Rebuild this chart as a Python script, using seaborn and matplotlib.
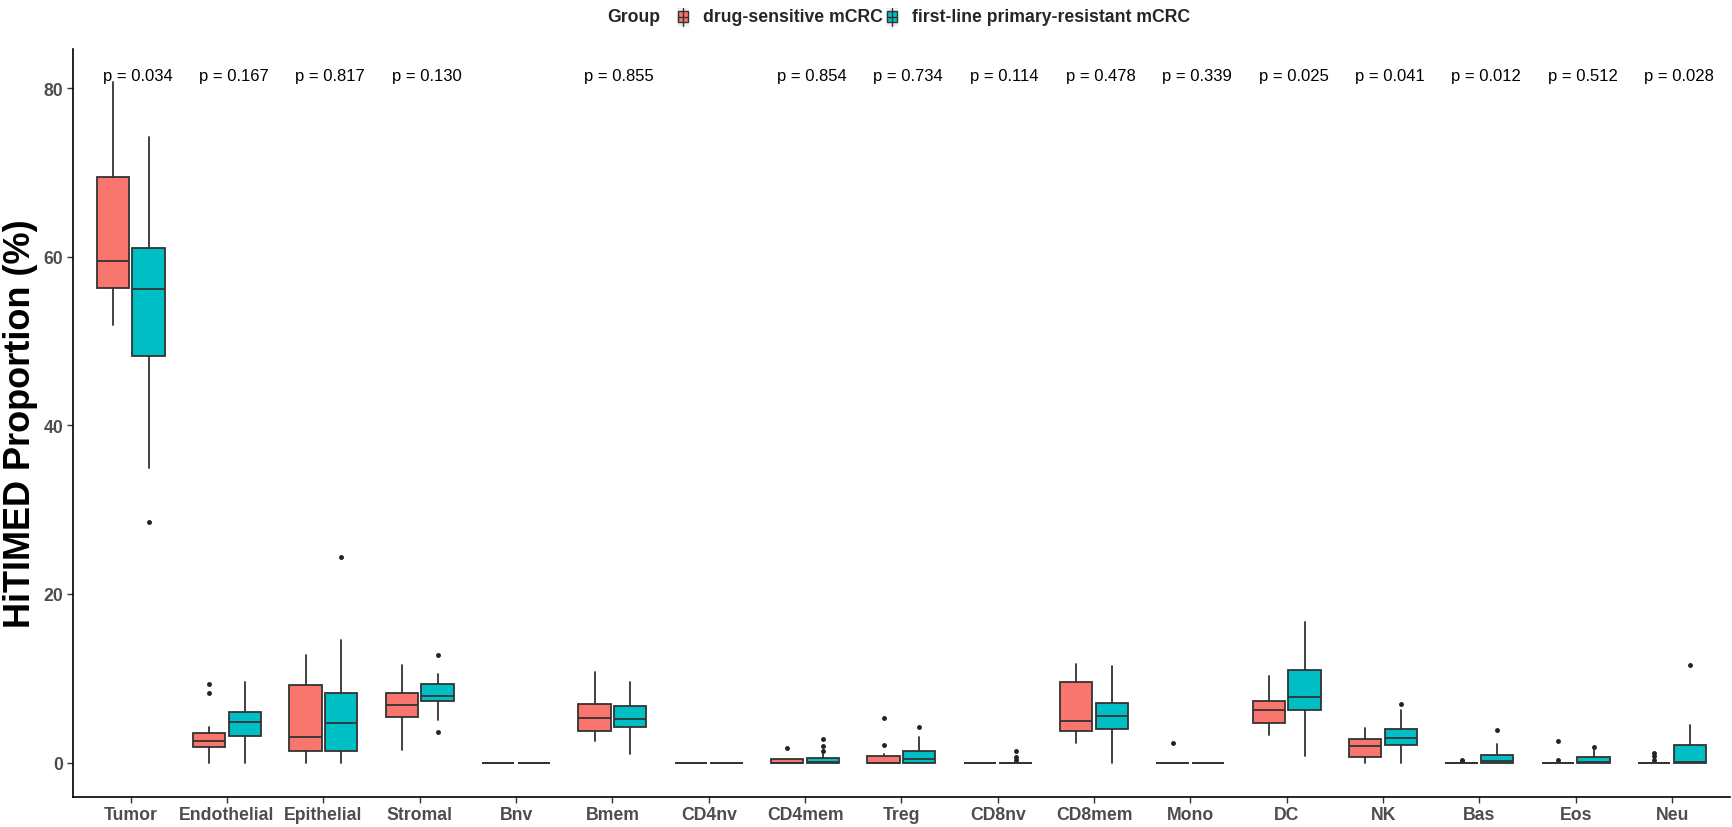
import numpy as np
import matplotlib
matplotlib.use("Agg")
import matplotlib.pyplot as plt
import seaborn as sns
from matplotlib.patches import Rectangle
from matplotlib.lines import Line2D

categories = ["Tumor", "Endothelial", "Epithelial", "Stromal", "Bnv", "Bmem", "CD4nv",
              "CD4mem", "Treg", "CD8nv", "CD8mem", "Mono", "DC", "NK", "Bas", "Eos", "Neu"]
groups = ["drug-sensitive mCRC", "first-line primary-resistant mCRC"]

# drug-sensitive mCRC
sens_whislo = [51.9, 0, 0, 1.5, 0, 2.6, 0, 0, 0, 0, 2.3, 0, 3.3, 0, 0, 0, 0]
sens_q1 = [56.3, 1.8, 1.4, 5.45, 0, 3.7, 0, 0, 0, 0, 3.75, 0, 4.65, 0.65, 0, 0, 0]
sens_med = [59.5, 2.5, 3.0, 6.85, 0, 5.3, 0, 0, 0, 0, 4.95, 0, 6.25, 2.0, 0, 0, 0]
sens_q3 = [69.5, 3.45, 9.15, 8.3, 0, 6.95, 0, 0.47, 0.79, 0, 9.55, 0, 7.35, 2.8, 0, 0, 0]
sens_whishi = [80.7, 4.2, 12.8, 11.6, 0, 10.7, 0, 0.47, 1.03, 0, 11.7, 0, 10.3, 4.05, 0, 0, 0]
sens_fliers = [[], [8.2, 9.35], [], [], [], [], [], [1.78], [2.1, 5.3], [], [], [2.3], [], [],
               [0.15, 0.3], [0.32, 2.5], [0.28, 0.83, 1.15]]

# first-line primary-resistant mCRC
res_whislo = [34.9, 0, 0, 5.05, 0, 1.05, 0, 0, 0, 0, 0, 0, 0.8, 0, 0, 0, 0]
res_q1 = [48.2, 3.15, 1.4, 7.25, 0, 4.25, 0, 0, 0, 0, 4.0, 0, 6.25, 2.1, 0, 0, 0]
res_med = [56.2, 4.8, 4.75, 7.9, 0, 5.2, 0, 0.05, 0.4, 0, 5.5, 0, 7.8, 2.95, 0.2, 0.08, 0.12]
res_q3 = [61.1, 5.95, 8.2, 9.3, 0, 6.75, 0, 0.59, 1.34, 0, 7.05, 0, 11.0, 3.95, 0.95, 0.67, 2.1]
res_whishi = [74.2, 9.5, 14.5, 10.5, 0, 9.5, 0, 1.1, 3.08, 0, 11.5, 0, 16.7, 6.25, 2.17, 1.5, 4.4]
res_fliers = [[28.6], [], [24.4], [3.65, 12.8], [], [], [], [1.42, 1.94, 2.8], [4.23],
              [0.32, 0.63, 1.38], [], [], [], [6.92], [3.87], [1.9], [11.6]]

p_labels = ["p = 0.034", "p = 0.167", "p = 0.817", "p = 0.130", "", "p = 0.855", "",
            "p = 0.854", "p = 0.734", "p = 0.114", "p = 0.478", "p = 0.339", "p = 0.025",
            "p = 0.041", "p = 0.012", "p = 0.512", "p = 0.028"]

colors = ["#F8766D", "#00BFC4"]
edge = "#333333"

sns.set_style("white")
plt.rcParams["font.family"] = ["Liberation Sans", "DejaVu Sans"]

W, H = 1732, 828
fig = plt.figure(figsize=(W / 100, H / 100), dpi=100)
ax = fig.add_axes([0.0421, 0.0368, 0.9567, 0.9032])


def make_stats(wl, q1, md, q3, wh, fl):
    return [dict(whislo=a, q1=b, med=c, q3=d, whishi=e, fliers=np.array(f))
            for a, b, c, d, e, f in zip(wl, q1, md, q3, wh, fl)]


all_stats = [make_stats(sens_whislo, sens_q1, sens_med, sens_q3, sens_whishi, sens_fliers),
             make_stats(res_whislo, res_q1, res_med, res_q3, res_whishi, res_fliers)]

xs = np.arange(1, len(categories) + 1)
offset = 0.185
width = 0.335
for gi, stats in enumerate(all_stats):
    pos = xs + (-offset if gi == 0 else offset)
    ax.bxp(stats, positions=pos, widths=width, patch_artist=True, showcaps=False,
           boxprops=dict(facecolor=colors[gi], edgecolor=edge, linewidth=1.3),
           medianprops=dict(color=edge, linewidth=1.3),
           whiskerprops=dict(color=edge, linewidth=1.3),
           flierprops=dict(marker="o", markersize=2.5, markerfacecolor="#222222",
                           markeredgecolor="#222222", linestyle="none"),
           manage_ticks=False)

for x, lab in zip(xs, p_labels):
    if lab:
        ax.text(x + 0.07, 81.5, lab, ha="center", va="center", fontsize=12, color="black")

ax.set_xlim(0.4, len(categories) + 0.6)
ax.set_ylim(-4.03, 84.7)
ax.set_xticks(xs)
ax.set_xticklabels(categories, fontsize=12.7, fontweight="bold", color="#4D4D4D")
ax.set_yticks([0, 20, 40, 60, 80])
ax.set_yticklabels(["0", "20", "40", "60", "80"], fontsize=12.7, fontweight="bold", color="#4D4D4D")
ax.tick_params(axis="both", length=4, width=1, color="#333333", direction="out", pad=3)
ax.tick_params(axis="both", which="both", bottom=True, left=True)
for s in ["top", "right"]:
    ax.spines[s].set_visible(False)
for s in ["left", "bottom"]:
    ax.spines[s].set_color("black")
    ax.spines[s].set_linewidth(1.2)
ax.set_ylabel("HiTIMED Proportion (%)", fontsize=26, fontweight="bold", color="black", labelpad=4)
ax.set_xlabel("")

# legend at top (title + two boxplot keys)
s = W / 1568.0
leg_y = 1 - 17.5 / H
fig.text(550 * s / W, leg_y, "Group", ha="left", va="center", fontsize=12.7, fontweight="bold")


def draw_key(xc_px, color):
    yc = H * leg_y
    bg = Rectangle(((xc_px - 6) / W, (yc - 9) / H), 12 / W, 18 / H, transform=fig.transFigure,
                   facecolor="#EFEFEF", edgecolor="none")
    wl = Line2D([xc_px / W, xc_px / W], [(yc - 9) / H, (yc + 9) / H], transform=fig.transFigure,
                color=edge, lw=1.0)
    bx = Rectangle(((xc_px - 5) / W, (yc - 5.5) / H), 10 / W, 11 / H, transform=fig.transFigure,
                   facecolor=color, edgecolor=edge, lw=1.0)
    md = Line2D([(xc_px - 5) / W, (xc_px + 5) / W], [yc / H, yc / H], transform=fig.transFigure,
                color=edge, lw=1.0)
    for a in (bg, wl, bx, md):
        fig.add_artist(a)


key_x = [618 * s, 807.5 * s]
lab_x = [636 * s, 826 * s]
for kx, lx, c, g in zip(key_x, lab_x, colors, groups):
    draw_key(kx, c)
    fig.text(lx / W, leg_y, g, ha="left", va="center", fontsize=12.7, fontweight="bold")

fig.savefig("out.png", dpi=100)
